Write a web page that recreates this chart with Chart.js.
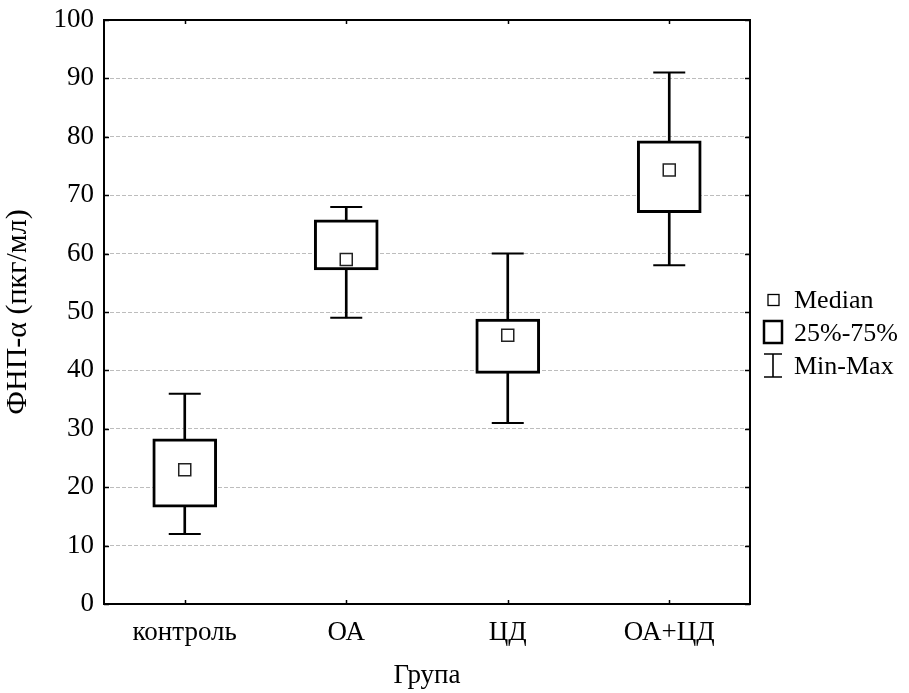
<!DOCTYPE html>
<html>
<head>
<meta charset="utf-8">
<script src="https://cdn.jsdelivr.net/npm/chart.js@4.4.1/dist/chart.umd.min.js"></script>
<style>
  html, body { margin: 0; padding: 0; background: #fff; }
  #wrap { position: relative; width: 909px; height: 693px; }
</style>
</head>
<body>
<div id="wrap"><canvas id="c" width="909" height="693"></canvas></div>
<script>
// ---- data ----
const categories = ['контроль', 'ОА', 'ЦД', 'ОА+ЦД'];
const minVals    = [12, 49, 31, 58];
const q1Vals     = [16.6, 57.2, 39.5, 67.0];
const medianVals = [23, 59, 46, 74.3];
const q3Vals     = [28.3, 65.8, 48.8, 79.3];
const maxVals    = [36, 68, 60, 91];
const yTickValues = [0, 10, 20, 30, 40, 50, 60, 70, 80, 90, 100];
const legendLabels = ['Median', '25%-75%', 'Min-Max'];
const xTitle = 'Група';
const yTitle = 'ФНП-α (пкг/мл)';

const FONT = '"Liberation Serif", "Times New Roman", serif';
const FS = 27;

const framePlugin = {
  id: 'frame',
  beforeDatasetsDraw(chart) {
    const { ctx, chartArea: a, scales } = chart;
    ctx.save();
    ctx.strokeStyle = '#000';
    ctx.lineWidth = 1.5;
    ctx.beginPath();
    categories.forEach((c, i) => {
      const x = Math.round(scales.x.getPixelForValue(i)) + 0.5;
      ctx.moveTo(x, a.top); ctx.lineTo(x, a.top + 4);
      ctx.moveTo(x, a.bottom); ctx.lineTo(x, a.bottom - 4);
    });
    yTickValues.forEach(v => {
      const y = Math.round(scales.y.getPixelForValue(v)) + 0.5;
      ctx.moveTo(a.left, y); ctx.lineTo(a.left + 5, y);
      ctx.moveTo(a.right, y); ctx.lineTo(a.right - 5, y);
    });
    ctx.stroke();
    ctx.lineWidth = 2;
    ctx.strokeRect(a.left, a.top, a.right - a.left, a.bottom - a.top);
    ctx.restore();
  },
  afterDraw(chart) {
    const { ctx, chartArea: a } = chart;
    const lx = a.right + 13;
    const tx = a.right + 44;
    ctx.save();
    ctx.strokeStyle = '#000';
    ctx.font = '26px ' + FONT;
    ctx.textBaseline = 'middle';
    ctx.textAlign = 'left';
    ctx.lineWidth = 1.3;
    ctx.fillStyle = '#fff';
    ctx.fillRect(lx + 5, 294.5, 11, 11);
    ctx.strokeRect(lx + 5, 294.5, 11, 11);
    ctx.lineWidth = 2.5;
    ctx.strokeRect(lx + 1, 321, 18, 22);
    ctx.lineWidth = 1.6;
    ctx.beginPath();
    ctx.moveTo(lx + 10, 354); ctx.lineTo(lx + 10, 377);
    ctx.moveTo(lx + 1, 354); ctx.lineTo(lx + 19, 354);
    ctx.moveTo(lx + 1, 377); ctx.lineTo(lx + 19, 377);
    ctx.stroke();
    ctx.fillStyle = '#000';
    ctx.fillText(legendLabels[0], tx, 301);
    ctx.fillText(legendLabels[1], tx, 334);
    ctx.fillText(legendLabels[2], tx, 367);
    ctx.restore();
  }
};

const chart = new Chart(document.getElementById('c'), {
  data: {
    labels: categories,
    datasets: [
      {
        type: 'bar',
        data: minVals.map((v, i) => [v, maxVals[i]]),
        backgroundColor: '#000',
        borderWidth: 0,
        barThickness: 2,
        grouped: false,
        order: 3
      },
      {
        type: 'line',
        data: minVals,
        showLine: false,
        pointStyle: 'line',
        pointRadius: 16,
        pointBorderWidth: 2,
        pointBorderColor: '#000',
        order: 2
      },
      {
        type: 'line',
        data: maxVals,
        showLine: false,
        pointStyle: 'line',
        pointRadius: 16,
        pointBorderWidth: 2,
        pointBorderColor: '#000',
        order: 2
      },
      {
        type: 'bar',
        data: q1Vals.map((v, i) => [v, q3Vals[i]]),
        backgroundColor: '#fff',
        borderColor: '#000',
        borderWidth: 3,
        borderSkipped: false,
        barThickness: 64,
        grouped: false,
        order: 1
      },
      {
        type: 'line',
        data: medianVals,
        showLine: false,
        pointStyle: 'rect',
        pointRadius: 8.5,
        pointBackgroundColor: '#fff',
        pointBorderColor: '#222',
        pointBorderWidth: 1.5,
        order: 0
      }
    ]
  },
  options: {
    responsive: false,
    animation: false,
    events: [],
    layout: { padding: { top: 20, right: 159, left: 0, bottom: 0 } },
    plugins: { legend: { display: false }, tooltip: { enabled: false } },
    scales: {
      x: {
        type: 'category',
        offset: true,
        grid: { display: false, drawTicks: false },
        border: { display: false },
        ticks: { color: '#000', font: { family: FONT, size: FS }, padding: 13, maxRotation: 0 },
        title: { display: true, text: xTitle, color: '#000', font: { family: FONT, size: FS }, padding: { top: 0, bottom: 1 } },
        afterFit(s) { s.height = 89; }
      },
      y: {
        min: 0, max: 100,
        afterBuildTicks(s) { s.ticks = yTickValues.map(v => ({ value: v })); },
        grid: { color: '#bdbdbd', lineWidth: 1, drawTicks: false },
        border: { display: false, dash: [4, 2] },
        ticks: { color: '#000', font: { family: FONT, size: FS, lineHeight: 0.7 }, padding: 10 },
        title: { display: true, text: yTitle, color: '#000', font: { family: FONT, size: 30 }, padding: { top: 0, bottom: 3 } },
        afterFit(s) { s.width = 104; }
      }
    }
  },
  plugins: [framePlugin]
});
</script>
</body>
</html>
